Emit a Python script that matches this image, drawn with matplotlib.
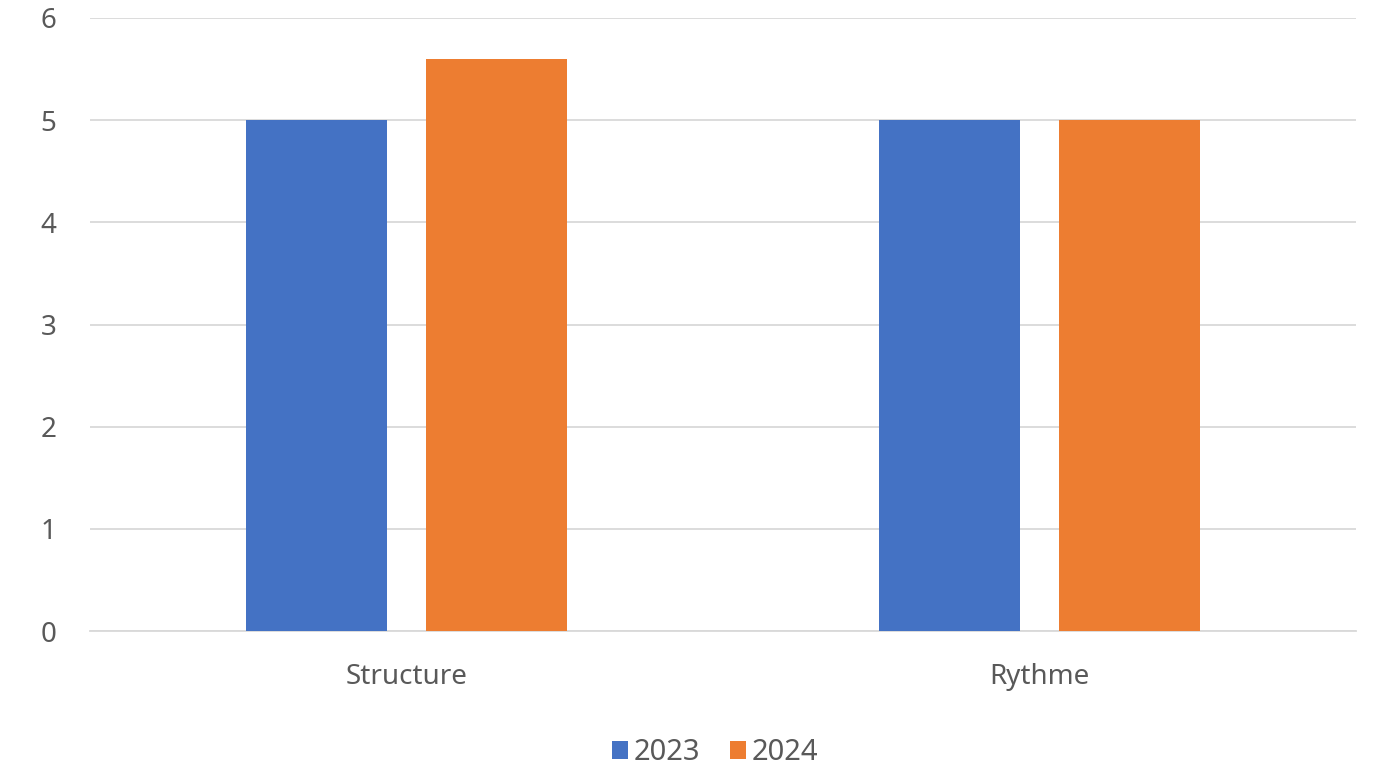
import matplotlib.pyplot as plt
import numpy as np

categories = ["Structure", "Rythme"]
series = ["2023", "2024"]
values_2023 = [5, 5]
values_2024 = [5.6, 5]
colors = ["#4472C4", "#ED7D31"]

plt.rcParams['font.family'] = ['Noto Sans', 'DejaVu Sans']

fig = plt.figure(figsize=(13.74, 7.71), dpi=100)
ax = fig.add_axes([90 / 1374, 1 - 631 / 771, 1266 / 1374, 613 / 771])

x = np.arange(len(categories))
w = 0.223
off = 0.142
ax.bar(x - off, values_2023, w, color=colors[0], label=series[0], zorder=3)
ax.bar(x + off, values_2024, w, color=colors[1], label=series[1], zorder=3)

ax.set_xlim(-0.5, len(categories) - 0.5)
ax.set_ylim(0, 6)
ax.set_yticks(range(0, 7))
ax.set_xticks(x)
ax.set_xticklabels(categories)
ax.grid(axis='y', color='#d9d9d9', linewidth=1.3, zorder=0)
for s in ['top', 'right', 'left']:
    ax.spines[s].set_visible(False)
ax.spines['bottom'].set_color('#d9d9d9')
ax.spines['bottom'].set_linewidth(1.3)
ax.tick_params(axis='both', length=0, labelsize=20, labelcolor='#595959')
ax.tick_params(axis='y', pad=24)
ax.tick_params(axis='x', pad=23)

ax.legend(loc='center', bbox_to_anchor=(715 / 1374, 1 - 753 / 771),
          bbox_transform=fig.transFigure, ncol=2, frameon=False,
          fontsize=21, labelcolor='#595959', handlelength=0.55, handleheight=0.55,
          handletextpad=0.2, columnspacing=1.0)

fig.savefig("out.png", dpi=100)
